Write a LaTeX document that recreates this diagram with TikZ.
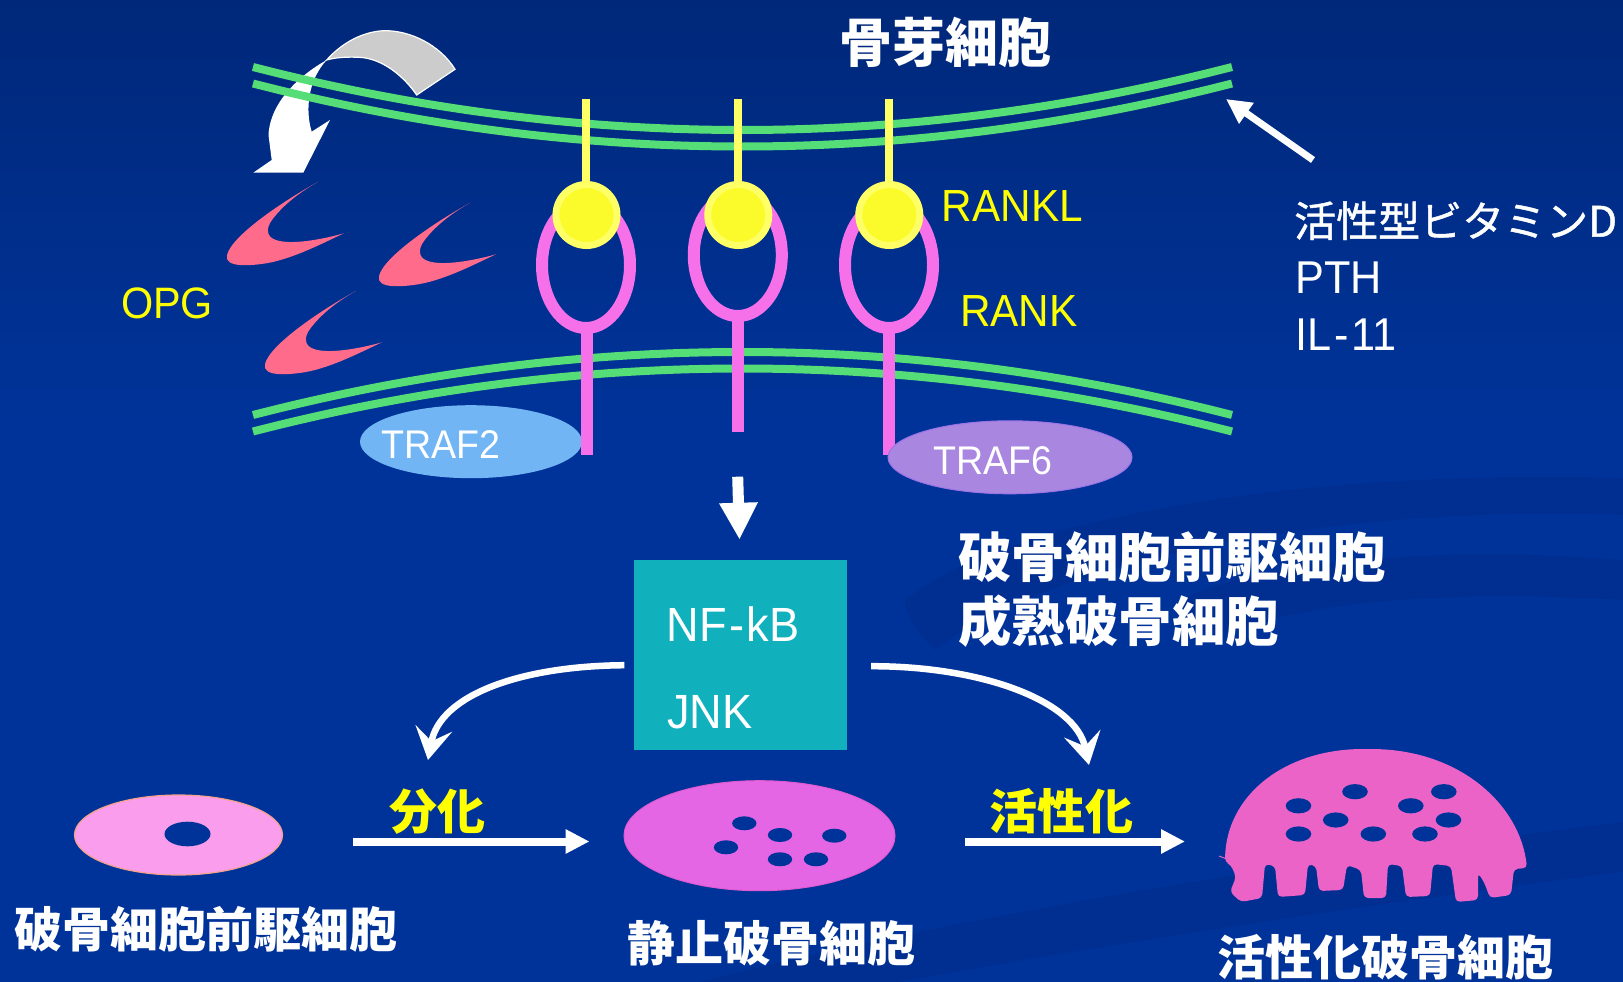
\documentclass[tikz,border=0pt]{standalone}
\usepackage{fontspec}
\setmainfont{Liberation Sans}
\newfontfamily\latin[FakeStretch=0.94]{Liberation Sans}
\newfontfamily\cjk{Noto Sans CJK JP}
\newfontfamily\cjkmed[FakeBold=1.1]{Noto Sans CJK JP}
\usetikzlibrary{arrows.meta,shapes.geometric}
\newcommand\setfs[1]{\fontsize{#1pt}{#1pt}\selectfont}

\definecolor{bgblue}{HTML}{003399}
\definecolor{bgtop}{HTML}{00287A}
\definecolor{bgdark}{HTML}{00287E}
\definecolor{memgreen}{HTML}{55DD77}
\definecolor{ylwout}{HTML}{FFFF66}
\definecolor{ylwin}{HTML}{FBFB2B}
\definecolor{rankpink}{HTML}{F670E9}
\definecolor{opgpink}{HTML}{FF6B8B}
\definecolor{traftwo}{HTML}{72B5F4}
\definecolor{trafsix}{HTML}{A986DF}
\definecolor{trafsixline}{HTML}{9A74E6}
\definecolor{boxteal}{HTML}{10B1BD}
\definecolor{prefill}{HTML}{F99DEC}
\definecolor{preline}{HTML}{F4A08A}
\definecolor{quifill}{HTML}{E566E4}
\definecolor{quiline}{HTML}{E05ACF}
\definecolor{actfill}{HTML}{EB63C7}
\definecolor{arrowgray}{HTML}{CCCCCC}
\definecolor{lblyellow}{HTML}{FFFF00}

\begin{document}
\begin{tikzpicture}[x=1pt,y=-1pt,
  membrane/.style={draw=memgreen,line width=8pt},
  ligand/.style={draw=ylwout,line width=8pt},
  ligandhead/.style={fill=ylwin,draw=ylwout,line width=7pt},
  rankloop/.style={draw=rankpink,line width=12pt},
  rankstem/.style={draw=rankpink,line width=12pt},
  opgshape/.style={fill=opgpink},
  nucleus/.style={fill=bgblue},
  whitearrow/.style={draw=white,line width=8pt,-{Triangle[length=24pt,width=23pt]}},
  bentarrow/.style={draw=white,line width=6.5pt,-{Stealth[length=32pt,width=37pt,inset=13pt]}},
  cjklabel/.style={inner sep=0pt,text=white,font=\cjk\bfseries\setfs{48}},
  yellowcjk/.style={inner sep=0pt,text=lblyellow,font=\cjk\bfseries\setfs{48}},
  latinlabel/.style={inner sep=0pt,anchor=base west,font=\latin\setfs{45}},
]
\useasboundingbox (0,0) rectangle (1623,982);

% background
\shade[top color=bgtop,bottom color=bgblue] (0,0) rectangle (1623,420);
\fill[bgblue] (0,419) rectangle (1623,982);

% faint swirls in the lower right
\begin{scope}[fill=bgdark,opacity=0.28]
  \fill (905,600) .. controls (1000,520) and (1300,468) .. (1623,478)
        -- (1623,515) .. controls (1350,505) and (1060,555) .. (935,650)
        .. controls (915,630) and (905,615) .. cycle;
  \fill (1180,600) .. controls (1260,560) and (1450,545) .. (1623,560)
        -- (1623,600) .. controls (1450,590) and (1300,600) .. (1210,640) -- cycle;
  \fill (700,982) .. controls (1000,905) and (1350,855) .. (1623,822)
        -- (1623,872) .. controls (1360,905) and (1060,952) .. (900,982) -- cycle;
\end{scope}

% curved twisted arrow at the upper left
\filldraw[fill=arrowgray,draw=white,line width=1.2pt]
  (326.7,60) .. controls (340,45) and (360,32) .. (383.3,30.7)
  .. controls (410,30) and (440,45) .. (455,69.3) -- (416.7,95)
  .. controls (405,78) and (385,60) .. (362,57.5)
  .. controls (348,56.5) and (335,57.5) .. cycle;
\fill[white]
  (326.7,60) .. controls (300,75) and (270,102) .. (268.5,135)
  -- (271.7,160) -- (253.3,172.7) -- (303.3,172.7) -- (330,120)
  -- (311.7,131.7) .. controls (305,110) and (308,80) .. cycle;

% cell membranes: osteoblast membrane above, osteoclast membrane below
\draw[membrane] (253,67) .. controls (579,151) and (905,151) .. (1232,67);
\draw[membrane] (253,83.5) .. controls (579,167.5) and (905,167.5) .. (1232,83.5);
\draw[membrane] (253,415) .. controls (579,331) and (905,331) .. (1232,415);
\draw[membrane] (253,431.5) .. controls (579,347.5) and (905,347.5) .. (1232,431.5);

% OPG molecules
\foreach \sx/\sy in {0/0,152/21,38/109} {
  \begin{scope}[shift={(\sx,\sy)}]
    \fill[opgshape] (318.3,181.7) .. controls (285,200) and (232,235) .. (227,255)
      .. controls (224,268) and (250,266) .. (268,263)
      .. controls (295,258) and (325,242) .. (344,233.3)
      .. controls (320,240) and (290,245) .. (276,240)
      .. controls (266,237) and (266,228) .. (272,220)
      .. controls (283,205) and (300,192) .. cycle;
  \end{scope}
}

% RANKL stalks
\draw[ligand] (586,99.3) -- (586,190);
\draw[ligand] (737.5,99.3) -- (737.5,190);
\draw[ligand] (888.5,99.3) -- (888.5,190);

% RANK loops
\draw[rankloop] (586,265) ellipse (44pt and 63pt);
\draw[rankloop] (737.8,255) ellipse (44pt and 61pt);
\draw[rankloop] (889,265) ellipse (44pt and 63pt);

% RANKL heads
\filldraw[ligandhead] (586.5,215) circle (30.5pt);
\filldraw[ligandhead] (738.3,215) circle (30.5pt);
\filldraw[ligandhead] (889.3,215) circle (30.5pt);

% TRAF2 sits under the first stem
\node[ellipse,fill=traftwo,minimum width=222pt,minimum height=73pt,inner sep=0pt] (traf2) at (471,441.7) {};
\draw[rankstem] (586.7,329) -- (586.7,455);
\draw[rankstem] (738,318) -- (738,432.3);
\draw[rankstem] (888.7,329) -- (888.7,455);
\node[ellipse,fill=trafsix,draw=trafsixline,line width=1pt,minimum width=244pt,minimum height=73pt,inner sep=0pt] (traf6) at (1010,457.3) {};

\node[latinlabel,text=white,font=\latin\setfs{40}] (traf2txt) at (381.5,458.3) {TRAF2};
\node[latinlabel,text=white,font=\latin\setfs{40}] (traf6txt) at (933.5,474) {TRAF6};

% labels on the upper part
\node[cjklabel,font=\cjk\bfseries\setfs{53}] (title) at (945,42.5) {骨芽細胞};
\node[latinlabel,text=lblyellow] (ranklbl) at (941.5,221.7) {RANKL};
\node[latinlabel,text=lblyellow] (rankbl) at (960,326.7) {RANK};
\node[latinlabel,text=lblyellow,font=\latin\setfs{44}] (opglbl) at (121,318) {OPG};

\node[inner sep=0pt,anchor=base west,text=white,font=\cjkmed\setfs{42}] (vitd) at (1294,236.7) {活性型ビタミンD};
\node[latinlabel,text=white,font=\latin\setfs{46}] (pth) at (1295,293.3) {PTH};
\node[latinlabel,text=white,font=\latin\setfs{46}] (il) at (1295,350) {IL\kern3pt-\kern3pt11};

\coordinate (hormtail) at (1313,160);
\coordinate (hormtip) at (1226,99);
\draw[white,line width=7pt,-{Triangle[length=25pt,width=24pt]}] (hormtail) -- (hormtip);

% signalling box
\node[rectangle,fill=boxteal,minimum width=213pt,minimum height=190.5pt,inner sep=0pt] (nfbox) at (740.1,655.2) {};
\node[latinlabel,text=white,font=\latin\setfs{48}] (nfkb) at (666.5,641.7) {NF\kern3pt-\kern2ptkB};
\node[latinlabel,text=white,font=\latin\setfs{48}] (jnk) at (667,728.3) {JNK};

\coordinate (downtail) at (737.7,476.7);
\draw[white,line width=11pt,-{Triangle[length=37pt,width=36pt]},shorten >=20pt] (downtail) -- (nfbox.north);

\node[cjklabel,anchor=west,font=\cjk\bfseries\setfs{53.5}] (mid1) at (958,557) {破骨細胞前駆細胞};
\node[cjklabel,anchor=west,font=\cjk\bfseries\setfs{53.5}] (mid2) at (958,621) {成熟破骨細胞};

% bent arrows leaving the box
\coordinate (leftend) at (428,760);
\coordinate (rightend) at (1089,765);
\draw[bentarrow] ([xshift=-9pt,yshift=-10pt]nfbox.west) .. controls (520,666) and (440,695) .. (leftend);
\draw[bentarrow] ([xshift=131pt,yshift=-11pt]nfbox.center) .. controls (980,666) and (1075,700) .. (rightend);

% osteoclast precursor
\node[ellipse,fill=prefill,draw=preline,line width=1.2pt,minimum width=208pt,minimum height=80pt,inner sep=0pt] (pre) at (178.5,835) {};
\fill[nucleus] (187.5,834) ellipse (23pt and 12.3pt);

% resting osteoclast
\node[ellipse,fill=quifill,draw=quiline,line width=1pt,minimum width=271pt,minimum height=110pt,inner sep=0pt] (qui) at (759.5,835.7) {};
\foreach \nx/\ny in {744.3/823.3,780/835,726/847.3,834.3/835.7,780/859.3,816/859.3}
  \fill[nucleus] (\nx,\ny) ellipse (12.2pt and 7pt);

% activated osteoclast with ruffled border
\fill[actfill,rounded corners=4pt] (1225,862)
  .. controls (1226,795) and (1285,749) .. (1367,749)
  .. controls (1460,749) and (1520,805) .. (1527,868)
  -- (1514,869) -- (1511,895) -- (1490,898) -- (1484,882) -- (1478,873)
  -- (1478,900) -- (1456,902) -- (1451,866) -- (1433,864) -- (1430,896)
  -- (1406,897) -- (1402,866) -- (1388,864) -- (1386,898) -- (1364,898)
  -- (1361,870) -- (1347,865) -- (1343,890) -- (1319,891) -- (1316,866)
  -- (1308,864) -- (1305,895) -- (1278,897) -- (1275,866) -- (1265,864)
  -- (1262,898) -- (1241,902) -- (1230,892) -- (1236,877) -- (1231,865) -- cycle;
\draw[actfill,line width=1pt] (1219,856) -- (1227,859);
\foreach \nx/\ny in {1355/791.7,1443.8/791.7,1298.5/805.8,1410.8/805.8,1335.7/820,1448.5/820,1298.5/834,1373.3/834,1425/834}
  \fill[nucleus] (\nx,\ny) ellipse (12.8pt and 7.6pt);
\coordinate (actwest) at (1225,841.5);

% differentiation and activation steps
\draw[whitearrow,shorten <=69.5pt,shorten >=34pt] (pre.east |- 0,841.5) -- (qui.west |- 0,841.5);
\draw[whitearrow,shorten <=69.5pt,shorten >=40pt] (qui.east |- 0,841.5) -- (actwest);
\node[yellowcjk] (difflbl) at (437,812) {分化};
\node[yellowcjk] (actlbl) at (1061,811) {活性化};

% cell names
\node[cjklabel] (prelbl) at (206,929) {破骨細胞前駆細胞};
\node[cjklabel] (quilbl) at (771,943) {静止破骨細胞};
\node[cjklabel] (actlbl2) at (1385,957) {活性化破骨細胞};
\end{tikzpicture}
\end{document}
